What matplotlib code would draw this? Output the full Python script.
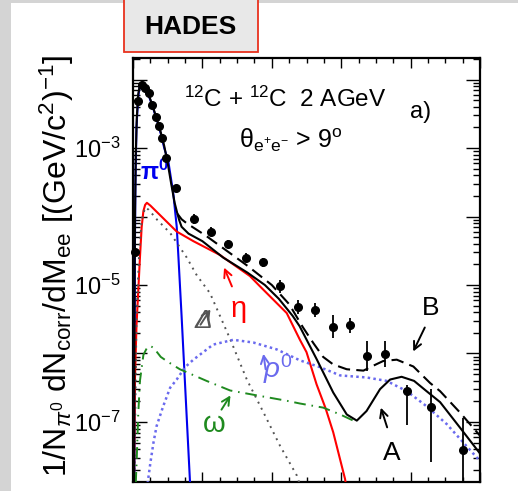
import numpy as np
import matplotlib
matplotlib.use('Agg')
import matplotlib.pyplot as plt
from matplotlib.patches import Rectangle
from matplotlib.ticker import FixedLocator, NullFormatter, FixedFormatter

plt.rcParams['font.family'] = ['Liberation Sans', 'DejaVu Sans']
plt.rcParams['mathtext.fontset'] = 'custom'
plt.rcParams['mathtext.rm'] = 'Liberation Sans'
plt.rcParams['mathtext.it'] = 'Liberation Sans:italic'
plt.rcParams['mathtext.bf'] = 'Liberation Sans:bold'

# ---------------- data (log10 of the yield) ----------------
m_data = [0.005, 0.015, 0.025, 0.035, 0.045, 0.055, 0.065, 0.075, 0.085, 0.095,
          0.125, 0.175, 0.225, 0.275, 0.325, 0.375, 0.425, 0.475, 0.525, 0.575,
          0.625, 0.675, 0.725, 0.79, 0.86, 0.95]
lg_data = [-4.52, -2.31, -2.08, -2.13, -2.20, -2.37, -2.55, -2.68, -2.86, -3.14,
           -3.59, -4.04, -4.22, -4.40, -4.60, -4.67, -5.02, -5.32, -5.36, -5.61,
           -5.59, -6.04, -6.01, -6.55, -6.78, -7.41]
lg_hi = [-4.52, -2.31, -2.08, -2.13, -2.20, -2.37, -2.55, -2.68, -2.86, -3.14,
         -3.56, -3.97, -4.15, -4.34, -4.54, -4.60, -4.93, -5.22, -5.26, -5.44,
         -5.48, -5.82, -5.82, -6.46, -6.52, -6.94]
lg_lo = [-4.52, -2.31, -2.08, -2.13, -2.20, -2.37, -2.55, -2.68, -2.86, -3.14,
         -3.62, -4.11, -4.29, -4.46, -4.66, -4.74, -5.11, -5.42, -5.46, -5.78,
         -5.70, -6.26, -6.20, -7.05, -7.59, -7.87]

m_A = [0.003, 0.0045, 0.006, 0.008, 0.011, 0.015, 0.02, 0.025, 0.03, 0.04, 0.05,
       0.06, 0.07, 0.08, 0.09, 0.10, 0.11, 0.12, 0.128, 0.133, 0.14, 0.16, 0.20,
       0.26, 0.33, 0.38, 0.42, 0.46, 0.48, 0.53, 0.577, 0.616, 0.645, 0.673, 0.712,
       0.741, 0.774, 0.81, 0.846, 0.885, 0.942, 1.0]
lg_A = [-7.9, -5.0, -3.9, -3.1, -2.55, -2.22, -2.07, -2.04, -2.07, -2.16, -2.29,
        -2.44, -2.60, -2.77, -2.97, -3.22, -3.52, -3.80, -3.96, -4.05, -4.15, -4.25,
        -4.36, -4.60, -4.82, -5.00, -5.20, -5.45, -5.60, -6.09, -6.57, -6.89, -6.98,
        -6.84, -6.52, -6.38, -6.34, -6.40, -6.55, -6.71, -7.08, -7.46]

m_B = [0.128, 0.14, 0.155, 0.21, 0.27, 0.33, 0.40, 0.45, 0.49, 0.52, 0.548, 0.577,
       0.616, 0.664, 0.70, 0.721, 0.76, 0.808, 0.856, 0.885, 0.942, 1.0]
lg_B = [-3.96, -4.04, -4.10, -4.28, -4.50, -4.72, -5.00, -5.28, -5.62, -5.85, -6.05,
        -6.16, -6.23, -6.25, -6.16, -6.11, -6.09, -6.19, -6.43, -6.55, -6.86, -7.20]

m_pi0 = [0.004, 0.0055, 0.007, 0.01, 0.015, 0.02, 0.025, 0.03, 0.04, 0.05, 0.06,
         0.07, 0.08, 0.09, 0.102, 0.116, 0.126, 0.131, 0.14, 0.148, 0.156, 0.165]
lg_pi0 = [-7.9, -4.5, -3.5, -2.7, -2.25, -2.08, -2.05, -2.08, -2.17, -2.30, -2.45,
          -2.61, -2.79, -3.00, -3.20, -3.66, -4.15, -4.60, -5.45, -6.25, -7.05, -7.95]

m_eta = [0.003, 0.0055, 0.01, 0.015, 0.02, 0.025, 0.03, 0.035, 0.04, 0.05, 0.078,
         0.126, 0.174, 0.25, 0.337, 0.366, 0.443, 0.481, 0.50, 0.529, 0.555, 0.577,
         0.611, 0.615]
lg_eta = [-7.9, -6.4, -5.6, -5.1, -4.6, -4.15, -3.92, -3.83, -3.80, -3.84, -3.98,
          -4.22, -4.36, -4.56, -4.87, -5.02, -5.41, -5.80, -5.98, -6.45, -6.80, -7.15,
          -7.83, -7.95]

m_delta = [0.004, 0.01, 0.018, 0.025, 0.035, 0.045, 0.07, 0.107, 0.155, 0.184, 0.222,
           0.28, 0.328, 0.376, 0.424, 0.472, 0.48]
lg_delta = [-7.9, -5.5, -4.5, -4.05, -3.87, -3.90, -4.05, -4.24, -4.60, -4.86, -5.12,
            -5.79, -6.38, -6.86, -7.35, -7.78, -7.90]

m_rho = [0.042, 0.05, 0.059, 0.068, 0.087, 0.107, 0.126, 0.15, 0.174, 0.231, 0.289,
         0.347, 0.414, 0.481, 0.539, 0.597, 0.673, 0.731, 0.789, 0.846, 0.904, 0.952, 1.0]
lg_rho = [-7.9, -7.6, -7.3, -7.06, -6.77, -6.50, -6.38, -6.20, -6.09, -5.87, -5.80,
          -5.84, -5.94, -6.10, -6.20, -6.32, -6.35, -6.40, -6.55, -6.77, -7.03, -7.30, -7.57]

m_omega = [0.008, 0.011, 0.015, 0.02, 0.03, 0.04, 0.05, 0.06, 0.08, 0.10, 0.135,
           0.212, 0.28, 0.366, 0.443, 0.481, 0.548, 0.597, 0.635, 0.648]
lg_omega = [-7.9, -7.5, -6.9, -6.4, -6.02, -5.92, -5.89, -5.92, -6.05, -6.12, -6.23,
            -6.40, -6.54, -6.62, -6.69, -6.73, -6.79, -6.89, -6.98, -7.00]

ytick_vals = [1e-7, 1e-6, 1e-5, 1e-4, 1e-3, 1e-2]
ytick_labels = [r'10$^{-7}$', '', r'10$^{-5}$', '', r'10$^{-3}$', '']

# ---------------- figure ----------------
W, H = 518, 491
fig = plt.figure(figsize=(W / 100, H / 100), dpi=100)
fig.patch.set_facecolor('#d4d4d4')
fig.patches.append(Rectangle((11 / W, 0), 1 - 11 / W, 1 - 3 / H, transform=fig.transFigure,
                             facecolor='white', edgecolor='none', zorder=-5))
fig.patches.append(Rectangle((124 / W, 1 - 52 / H), 134 / W, 52 / H + 0.01,
                             transform=fig.transFigure, facecolor='#e8e8e8',
                             edgecolor='#e8321e', lw=1.3, zorder=-4))
fig.text(190 / W, 1 - 27 / H, 'HADES', fontsize=19, fontweight='bold',
         ha='center', va='center')

ax = fig.add_axes([133 / W, 1 - 482 / H, 347 / W, 424 / H])
ax.set_zorder(2)
ax.set_yscale('log')
ax.set_xlim(0, 1.0)
ax.set_ylim(10 ** -7.876, 10 ** -1.686)


def lin(v):
    return 10 ** np.asarray(v, dtype=float)


ax.plot(m_pi0, lin(lg_pi0), color='#0000ee', lw=1.5, zorder=3)
ax.plot(m_eta, lin(lg_eta), color='#ff0000', lw=1.5, zorder=3)
ax.plot(m_delta, lin(lg_delta), color='#555555', lw=1.4, dashes=(1, 2.5), zorder=3)
ax.plot(m_rho, lin(lg_rho), color='#6a6aee', lw=1.8, dashes=(1, 1.3), zorder=3)
ax.plot(m_omega, lin(lg_omega), color='#1f8a1f', lw=1.4, dashes=(6, 3, 0.8, 3), zorder=3)
ax.plot(m_B, lin(lg_B), color='black', lw=1.5, dashes=(6, 3), zorder=4)
ax.plot(m_A, lin(lg_A), color='black', lw=1.5, zorder=4)

yd = lin(lg_data)
ax.errorbar(m_data, yd, yerr=[yd - lin(lg_lo), lin(lg_hi) - yd], fmt='o', color='black',
            ms=5.5, elinewidth=1.3, capsize=0, zorder=6, clip_on=False)

# ticks
ax.xaxis.set_major_locator(FixedLocator([0, 0.2, 0.4, 0.6, 0.8, 1.0]))
ax.xaxis.set_minor_locator(FixedLocator(np.arange(0, 1.001, 0.05)))
ax.xaxis.set_major_formatter(NullFormatter())
ax.yaxis.set_major_locator(FixedLocator(ytick_vals))
ax.yaxis.set_major_formatter(FixedFormatter(ytick_labels))
minor = [k * 10.0 ** e for e in range(-8, -1) for k in range(2, 10)]
ax.yaxis.set_minor_locator(FixedLocator(minor))
ax.yaxis.set_minor_formatter(NullFormatter())
ax.tick_params(which='both', direction='in', top=True, right=True, width=1.0)
ax.tick_params(axis='x', which='major', length=7)
ax.tick_params(axis='x', which='minor', length=3.5)
ax.tick_params(axis='y', which='major', length=10, labelsize=17, pad=9)
ax.tick_params(axis='y', which='minor', length=5)
for s in ax.spines.values():
    s.set_linewidth(1.6)

fig.text(57 / W, 1 - 266 / H,
         r'1/N$_{\pi^{0}}$ dN$_{\rm corr}$/dM$_{\rm ee}$ [(GeV/c$^{2}$)$^{-1}$]',
         rotation=90, fontsize=23, ha='center', va='center')

# annotations
T = ax.transAxes
def fx(px):
    return (px - 133) / 347
def fy(py):
    return (482 - py) / 424

ax.text(fx(184), fy(99), r'$^{12}$C + $^{12}$C  2 AGeV', transform=T, fontsize=17.5,
        ha='left', va='center')
ax.text(fx(421), fy(112), 'a)', transform=T, fontsize=17, ha='center', va='center')
ax.text(fx(239), fy(140), r'$\mathrm{\theta}_{\rm e^{+}e^{-}}$ > 9$^{\rm o}$', transform=T,
        fontsize=18, ha='left', va='center')
ax.text(fx(154), fy(172), r'$\mathbf{\pi^{0}}$', transform=T, fontsize=17, color='#0000ee',
        ha='center', va='center')
ax.text(fx(239), fy(309), 'η', transform=T, fontsize=21, color='#ff0000',
        ha='center', va='center')
ax.text(fx(203), fy(321), 'Δ', transform=T, fontsize=19, color='#555555', style='italic',
        ha='center', va='center')
ax.text(fx(278), fy(369), r'$\rho^{0}$', transform=T, fontsize=20, color='#6a6aee',
        ha='center', va='center')
ax.text(fx(214), fy(424), 'ω', transform=T, fontsize=21, color='#1f8a1f',
        ha='center', va='center')
ax.text(fx(392), fy(453), 'A', transform=T, fontsize=19, ha='center', va='center')
ax.text(fx(431), fy(308), 'B', transform=T, fontsize=19, ha='center', va='center')

def arrow(x0, y0, x1, y1, c):
    ax.annotate('', xy=(fx(x1), fy(y1)), xytext=(fx(x0), fy(y0)), xycoords=T,
                textcoords=T, arrowprops=dict(arrowstyle='->', color=c, lw=1.4,
                                              mutation_scale=14))

arrow(233, 289, 223, 265, '#ff0000')
arrow(199, 327, 212, 307, '#555555')
arrow(266, 372, 263, 351, '#6a6aee')
arrow(220, 412, 232, 393, '#1f8a1f')
arrow(388, 430, 380, 405, 'black')
arrow(426, 325, 412, 354, 'black')

fig.savefig('out.png', dpi=100, facecolor=fig.get_facecolor())
